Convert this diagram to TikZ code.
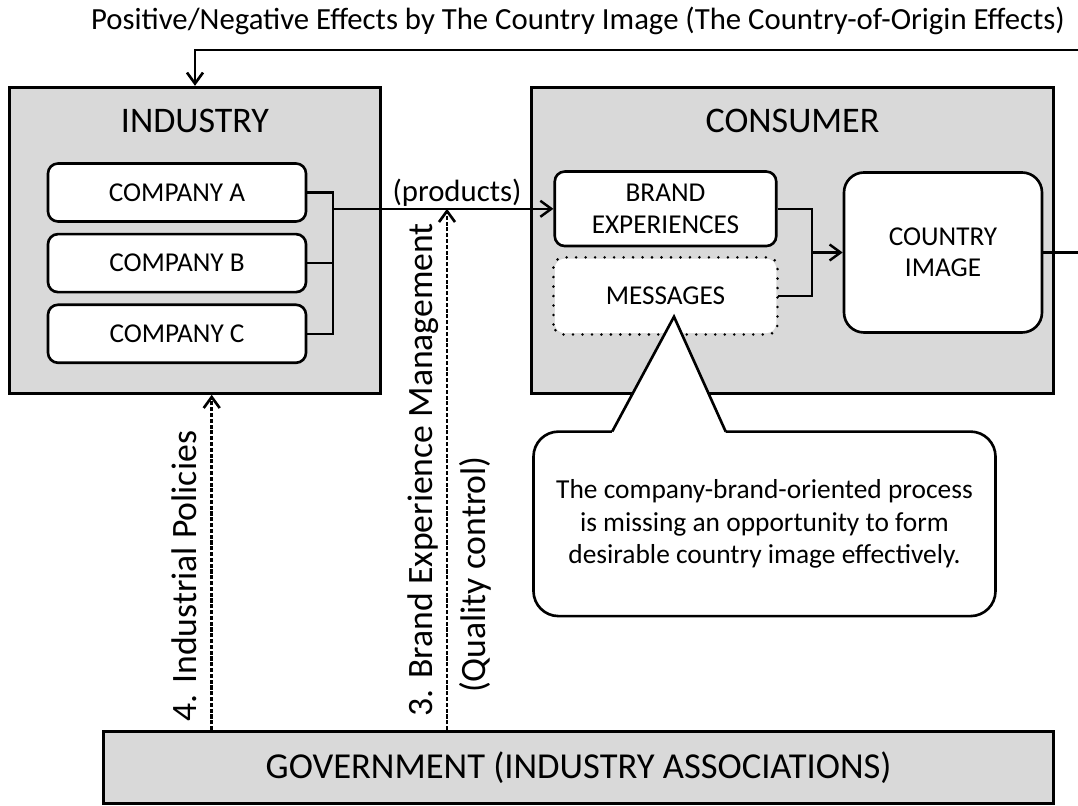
\documentclass[tikz,border=0pt]{standalone}
\usepackage{xcolor}
\usepackage{fontspec}
\setmainfont{Carlito}
\usepackage{tikz}
\usetikzlibrary{positioning, calc, arrows.meta}
\definecolor{panelgray}{rgb}{0.85, 0.85, 0.85}

\begin{document}
\begin{tikzpicture}[scale=1, every node/.style={transform shape}]
		\tikzstyle{panel}=[draw=black, line width=1.7pt, fill=panelgray, text=black]
		\tikzstyle{paneltitle}=[text=black, font=\fontsize{20.5}{24}\selectfont]
		
		\tikzstyle{unit}=[draw=black, line width=1.5pt, rounded corners=2mm, fill=white, text=black, align=center, font=\fontsize{15.5}{17.8}\selectfont]
		\tikzstyle{company}=[unit, minimum height=11.6mm, minimum width=51.6mm]
		\tikzstyle{stage}=[unit, minimum height=14.9mm, minimum width=44.3mm]
		
		\tikzstyle{link}=[draw=black, line width=1.4pt]
		\tikzstyle{linkarrow}=[link, -{Straight Barb[length=2.2mm, width=3.2mm]}]
		\tikzstyle{policy}=[link, line width=1.5pt, dash pattern=on 2.3pt off 1pt, -{Straight Barb[length=2.2mm, width=3.2mm]}]
		\tikzstyle{sidelabel}=[rotate=90, anchor=base west, inner sep=0pt, text=black, font=\fontsize{20.3}{24}\selectfont]
		
		\useasboundingbox (0,0) rectangle (21.56,16.1);
		\clip (0,0) rectangle (21.56,16.1);
		
		%% industry side
		\node [panel, minimum width=74.3mm, minimum height=61.2mm] (IND) at (3.9,11.294) {};
		\node [paneltitle] (INDT) at (3.9,13.69) {INDUSTRY};
		\node [company] (CA) at (3.54,12.25) {COMPANY A};
		\node [company, below=0.2cm of CA] (CB) {COMPANY B};
		\node [company, below=0.2cm of CB] (CC) {COMPANY C};
		
		%% consumer side
		\node [panel, minimum width=104.3mm, minimum height=61.2mm] (CON) at (15.847,11.294) {};
		\node [paneltitle] (CONT) at (15.85,13.68) {CONSUMER};
		\node [stage] (BE) at (13.31,11.924) {BRAND\\EXPERIENCES};
		\node [stage, below=0.2cm of BE, draw=none] (MSG) {MESSAGES};
		\draw [line width=1.6pt, dash pattern=on 0pt off 5.4pt, line cap=round, rounded corners=2mm] (MSG.south west) rectangle (MSG.north east);
		\node [unit, rounded corners=4mm, minimum width=39.6mm, minimum height=32mm] (CI) at (18.86,11.05) {COUNTRY\\IMAGE};
		
		%% companies -> products -> brand experiences
		\coordinate (J1) at ($(CA.east)+(0.51,0)$);
		\draw [link] (CA.east) -- (J1) |- (CC.east);
		\draw [link] (CB.east) -- (CB.east -| J1);
		\draw [linkarrow] (J1 |- BE.west) -- (BE.west);
		\node [anchor=base, font=\fontsize{17.5}{20}\selectfont] (PROD) at (9.14,12.066) {(products)};
		
		%% brand experiences + messages -> country image
		\coordinate (J2) at ($(BE.east)+(0.69,0)$);
		\draw [link] (BE.east) -- (J2) |- (MSG.east);
		\draw [linkarrow] (J2 |- CI.west) -- (CI.west);
		
		%% feedback loop over the top
		\draw [linkarrow, line width=1.5pt] (CI.east) -| (21.8,15.1) -| (IND.north);
		\node [anchor=base, font=\fontsize{17.5}{20}\selectfont] (TOP) at (11.56,15.5) {Positive/Negative Effects by The Country Image (The Country-of-Origin Effects)};
		
		%% callout
		\node [draw=black, line width=1.5pt, rounded corners=5mm, fill=white, minimum width=92.4mm, minimum height=36.9mm, align=center, font=\fontsize{15.6}{18.6}\selectfont] (NOTE) at (15.29,5.623) {The company-brand-oriented process\\is missing an opportunity to form\\desirable country image effectively.};
		\coordinate (P1) at ($(NOTE.north west)+(1.6,-0.026)$);
		\coordinate (P2) at ($(NOTE.north west)+(3.87,-0.026)$);
		\coordinate (TIP) at (13.48,9.766);
		\fill [white] (P1) -- (TIP) -- (P2) -- ($(P2)+(0,-0.08)$) -- ($(P1)+(0,-0.08)$) -- cycle;
		\draw [line width=1.5pt] (P1) -- (TIP) -- (P2);
		
		%% government
		\node [panel, minimum width=189.9mm, minimum height=14.3mm, font=\fontsize{20.8}{24}\selectfont] (GOV) at (11.573,0.753) {GOVERNMENT (INDUSTRY ASSOCIATIONS)};
		
		\coordinate (X4) at (4.234,0);
		\coordinate (X3) at (8.94,0);
		\draw [policy] (X4 |- GOV.north) -- (X4 |- IND.south);
		\draw [policy] (X3 |- GOV.north) -- (X3 |- BE.west);
		\node [sidelabel] (L4) at (3.934,1.666) {4. Industrial Policies};
		\node [sidelabel] (L3) at (8.64,1.766) {3. Brand Experience Management};
		\node [sidelabel] (L3Q) at (9.7,2.233) {(Quality control)};
		
\end{tikzpicture}
\end{document}
